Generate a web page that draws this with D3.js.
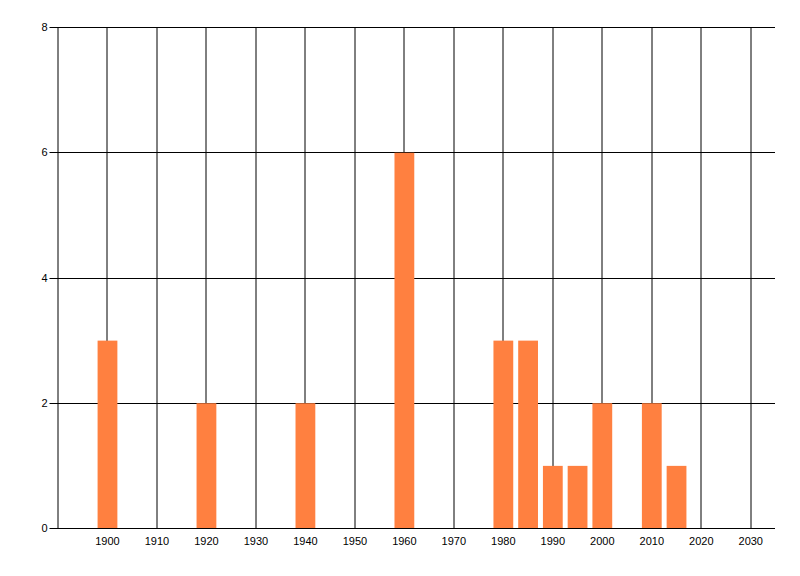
<!DOCTYPE html>
<html>
<head>
<meta charset="utf-8">
<script src="https://cdn.jsdelivr.net/npm/d3@7"></script>
<style>
  body { margin: 0; background: #fff; }
  text { font-family: "Liberation Sans", Arial, sans-serif; font-size: 11px; fill: #000; }
</style>
</head>
<body>
<div id="vis"></div>
<script>
// Data
const years = [1900, 1920, 1940, 1960, 1980, 1985, 1990, 1995, 2000, 2010, 2015];
const counts = [3, 2, 2, 6, 3, 3, 1, 1, 2, 2, 1];
const xTicks = [1900, 1910, 1920, 1930, 1940, 1950, 1960, 1970, 1980, 1990, 2000, 2010, 2020, 2030];
const yTicks = [0, 2, 4, 6, 8];

const margin = { top: 27, right: 25, bottom: 48, left: 57.5 };
const width = 800 - margin.left - margin.right;
const height = 576 - margin.top - margin.bottom;

const svg = d3.select('#vis')
    .append('svg')
    .attr('width', 800)
    .attr('height', 576)
    .append('g')
    .attr('transform', `translate(${margin.left},${margin.top})`);

const xScale = d3.scaleLinear().domain([1890, 2035]).range([0, width]);
const yScale = d3.scaleLinear().domain([0, 8]).range([height, 0]);

// vertical gridlines
svg.selectAll('.vgrid')
    .data(xTicks)
    .join('line')
    .attr('x1', d => Math.round(xScale(d)) + 0.5)
    .attr('x2', d => Math.round(xScale(d)) + 0.5)
    .attr('y1', 0)
    .attr('y2', height)
    .attr('stroke', '#000');

// horizontal gridlines (with little ticks on the left)
svg.selectAll('.hgrid')
    .data(yTicks)
    .join('line')
    .attr('x1', -8)
    .attr('x2', width)
    .attr('y1', d => Math.round(yScale(d)) + 0.5)
    .attr('y2', d => Math.round(yScale(d)) + 0.5)
    .attr('stroke', '#000');

// left axis line
svg.append('line')
    .attr('x1', 0.5).attr('x2', 0.5)
    .attr('y1', 0).attr('y2', height)
    .attr('stroke', '#000');

// bars
const barW = xScale(1894) - xScale(1890);
svg.selectAll('.bar')
    .data(years.map((y, i) => ({ year: y, count: counts[i] })))
    .join('rect')
    .attr('class', 'bar')
    .attr('x', d => xScale(d.year) - barW / 2 + 0.5)
    .attr('width', barW)
    .attr('y', d => yScale(d.count) + 0.5)
    .attr('height', d => height - yScale(d.count))
    .attr('fill', '#ff8040');

// bottom axis line on top
svg.append('line')
    .attr('x1', 0).attr('x2', width)
    .attr('y1', height + 0.5).attr('y2', height + 0.5)
    .attr('stroke', '#000');

// labels
svg.selectAll('.xlab')
    .data(xTicks)
    .join('text')
    .attr('x', d => xScale(d) + 0.5)
    .attr('y', height + 17)
    .attr('text-anchor', 'middle')
    .text(d => d);

svg.selectAll('.ylab')
    .data(yTicks)
    .join('text')
    .attr('x', -10)
    .attr('y', d => yScale(d) + 4)
    .attr('text-anchor', 'end')
    .text(d => d);
</script>
</body>
</html>
